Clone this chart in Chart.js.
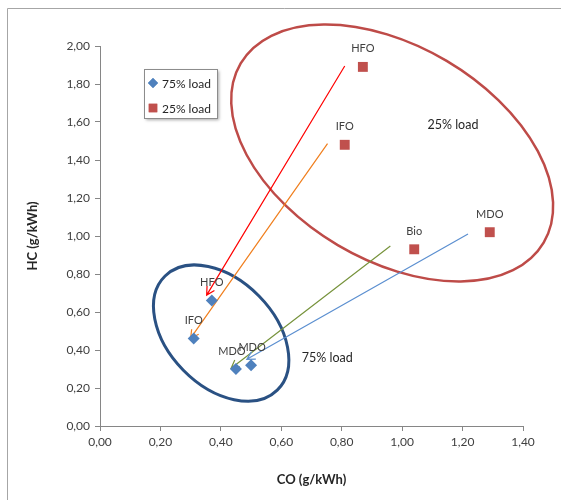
<!DOCTYPE html>
<html>
<head>
<meta charset="utf-8">
<script src="https://cdn.jsdelivr.net/npm/chart.js@4"></script>
<style>
  html, body { margin: 0; padding: 0; background: #fff; }
  #wrap { position: relative; width: 561px; height: 500px; }
</style>
</head>
<body>
<div id="wrap"><canvas id="emissions" width="561" height="500"></canvas></div>
<script>
// CO / HC emissions per fuel at two engine loads
const fuels75 = ['HFO', 'IFO', 'MDO', 'MDO'];
const co75 = [0.37, 0.31, 0.45, 0.50];
const hc75 = [0.66, 0.46, 0.30, 0.32];

const fuels25 = ['HFO', 'IFO', 'Bio', 'MDO'];
const co25 = [0.87, 0.81, 1.04, 1.29];
const hc25 = [1.89, 1.48, 0.93, 1.02];

const seriesNames = ['75% load', '25% load'];

// arrows from the 25% load cluster down to the 75% load points (axis units)
const arrows = [
    { from: [0.81, 1.895], to: [0.353, 0.689], color: '#FF0000' },
    { from: [0.753, 1.486], to: [0.300, 0.462], color: '#F07F1E' },
    { from: [0.961, 0.947], to: [0.434, 0.304], color: '#77933C' },
    { from: [1.218, 1.011], to: [0.486, 0.351], color: '#5B8FD0' }
];

// group outlines: centre in axis units, semi-axes in px, tilt in degrees
const groups = [
    { label: '25% load', center: [0.967, 1.437], rx: 176, ry: 107, tilt: 30.6, color: '#BE4B48', width: 2.5, text: [1.168, 1.584] },
    { label: '75% load', center: [0.401, 0.489], rx: 80, ry: 53, tilt: 45.5, color: '#2A5183', width: 3, text: [0.752, 0.356] }
];

const FONT = 'Lato, "DejaVu Sans", sans-serif';
const comma = v => Number(v).toFixed(2).replace('.', ',');

const toPoints = (xs, ys) => xs.map((x, i) => ({ x: x, y: ys[i] }));

const annotations = {
    id: 'annotations',
    beforeDatasetsDraw(chart) {
        const { ctx, scales: { x, y } } = chart;
        ctx.save();
        groups.forEach(g => {
            ctx.beginPath();
            ctx.ellipse(x.getPixelForValue(g.center[0]), y.getPixelForValue(g.center[1]),
                g.rx, g.ry, g.tilt * Math.PI / 180, 0, Math.PI * 2);
            ctx.strokeStyle = g.color;
            ctx.lineWidth = g.width;
            ctx.stroke();
        });
        arrows.forEach(a => {
            const x0 = x.getPixelForValue(a.from[0]), y0 = y.getPixelForValue(a.from[1]);
            const x1 = x.getPixelForValue(a.to[0]), y1 = y.getPixelForValue(a.to[1]);
            const ang = Math.atan2(y1 - y0, x1 - x0);
            ctx.strokeStyle = a.color;
            ctx.lineWidth = 1.2;
            ctx.beginPath();
            ctx.moveTo(x0, y0);
            ctx.lineTo(x1, y1);
            ctx.moveTo(x1 - 9 * Math.cos(ang - 0.5), y1 - 9 * Math.sin(ang - 0.5));
            ctx.lineTo(x1, y1);
            ctx.lineTo(x1 - 9 * Math.cos(ang + 0.5), y1 - 9 * Math.sin(ang + 0.5));
            ctx.stroke();
        });
        ctx.restore();
    },
    afterDatasetsDraw(chart) {
        const { ctx, scales: { x, y } } = chart;
        ctx.save();
        ctx.textAlign = 'center';
        ctx.textBaseline = 'middle';
        // point names
        ctx.font = '11px ' + FONT;
        ctx.fillStyle = '#404040';
        const shift75 = [0, 0, -4, 1];
        fuels75.forEach((n, i) => {
            ctx.fillText(n, x.getPixelForValue(co75[i]) + shift75[i], y.getPixelForValue(hc75[i]) - 18);
        });
        fuels25.forEach((n, i) => {
            ctx.fillText(n, x.getPixelForValue(co25[i]), y.getPixelForValue(hc25[i]) - 18);
        });
        // group captions
        ctx.font = '12.5px ' + FONT;
        ctx.fillStyle = '#262626';
        groups.forEach(g => {
            ctx.fillText(g.label, x.getPixelForValue(g.text[0]), y.getPixelForValue(g.text[1]));
        });

        // legend box
        const bx = 144, by = 69, bw = 73, bh = 49;
        ctx.shadowColor = 'rgba(0,0,0,0.35)';
        ctx.shadowOffsetX = 2;
        ctx.shadowOffsetY = 2;
        ctx.shadowBlur = 3;
        ctx.fillStyle = '#fff';
        ctx.fillRect(bx, by, bw, bh);
        ctx.shadowColor = 'transparent';
        ctx.strokeStyle = '#8C8C8C';
        ctx.lineWidth = 1;
        ctx.strokeRect(bx + 0.5, by + 0.5, bw, bh);
        ctx.textAlign = 'left';
        ctx.font = '12px ' + FONT;
        chart.data.datasets.forEach((ds, i) => {
            const ly = by + 14 + i * 25;
            ctx.fillStyle = ds.backgroundColor;
            Chart.helpers.drawPoint(ctx, { pointStyle: ds.pointStyle, radius: ds.pointRadius - 1, rotation: 0, borderWidth: 0 }, bx + 9, ly);
            ctx.fill();
            ctx.fillStyle = '#262626';
            ctx.fillText(ds.label, bx + 18, ly + 1);
        });

        // outer frame
        ctx.strokeStyle = '#A6A6A6';
        ctx.beginPath();
        ctx.moveTo(7.5, 500);
        ctx.lineTo(7.5, 8.5);
        ctx.lineTo(561, 8.5);
        ctx.stroke();
        ctx.restore();
    }
};

new Chart(document.getElementById('emissions'), {
    type: 'scatter',
    data: {
        datasets: [{
            label: seriesNames[0],
            data: toPoints(co75, hc75),
            pointStyle: 'rectRot',
            pointRadius: 6,
            backgroundColor: '#4F81BD',
            borderColor: '#4F81BD',
            borderWidth: 0
        }, {
            label: seriesNames[1],
            data: toPoints(co25, hc25),
            pointStyle: 'rect',
            pointRadius: 7,
            backgroundColor: '#C0504D',
            borderColor: '#C0504D',
            borderWidth: 0
        }]
    },
    options: {
        responsive: false,
        animation: false,
        layout: { padding: { left: 20, top: 46, right: 38, bottom: 0 } },
        plugins: {
            legend: { display: false },
            tooltip: { enabled: false }
        },
        scales: {
            x: {
                min: 0, max: 1.4,
                afterFit: s => { s.height = 74; },
                ticks: { stepSize: 0.2, callback: comma, color: '#404040', font: { family: FONT, size: 12 }, padding: 4, maxRotation: 0 },
                grid: { drawOnChartArea: false, tickLength: 5, color: '#868686' },
                border: { color: '#868686' },
                title: { display: true, text: 'CO (g/kWh)', color: '#262626', font: { family: FONT, size: 13, weight: 'bold' }, padding: { top: 0, bottom: 12 } }
            },
            y: {
                min: 0, max: 2,
                afterFit: s => { s.width = 80; },
                ticks: { stepSize: 0.2, callback: comma, color: '#404040', font: { family: FONT, size: 12 }, padding: 5 },
                grid: { drawOnChartArea: false, tickLength: 5, color: '#868686' },
                border: { color: '#868686' },
                title: { display: true, text: 'HC (g/kWh)', color: '#262626', font: { family: FONT, size: 13, weight: 'bold' }, padding: { top: 5, bottom: 0 } }
            }
        }
    },
    plugins: [annotations]
});
</script>
</body>
</html>
